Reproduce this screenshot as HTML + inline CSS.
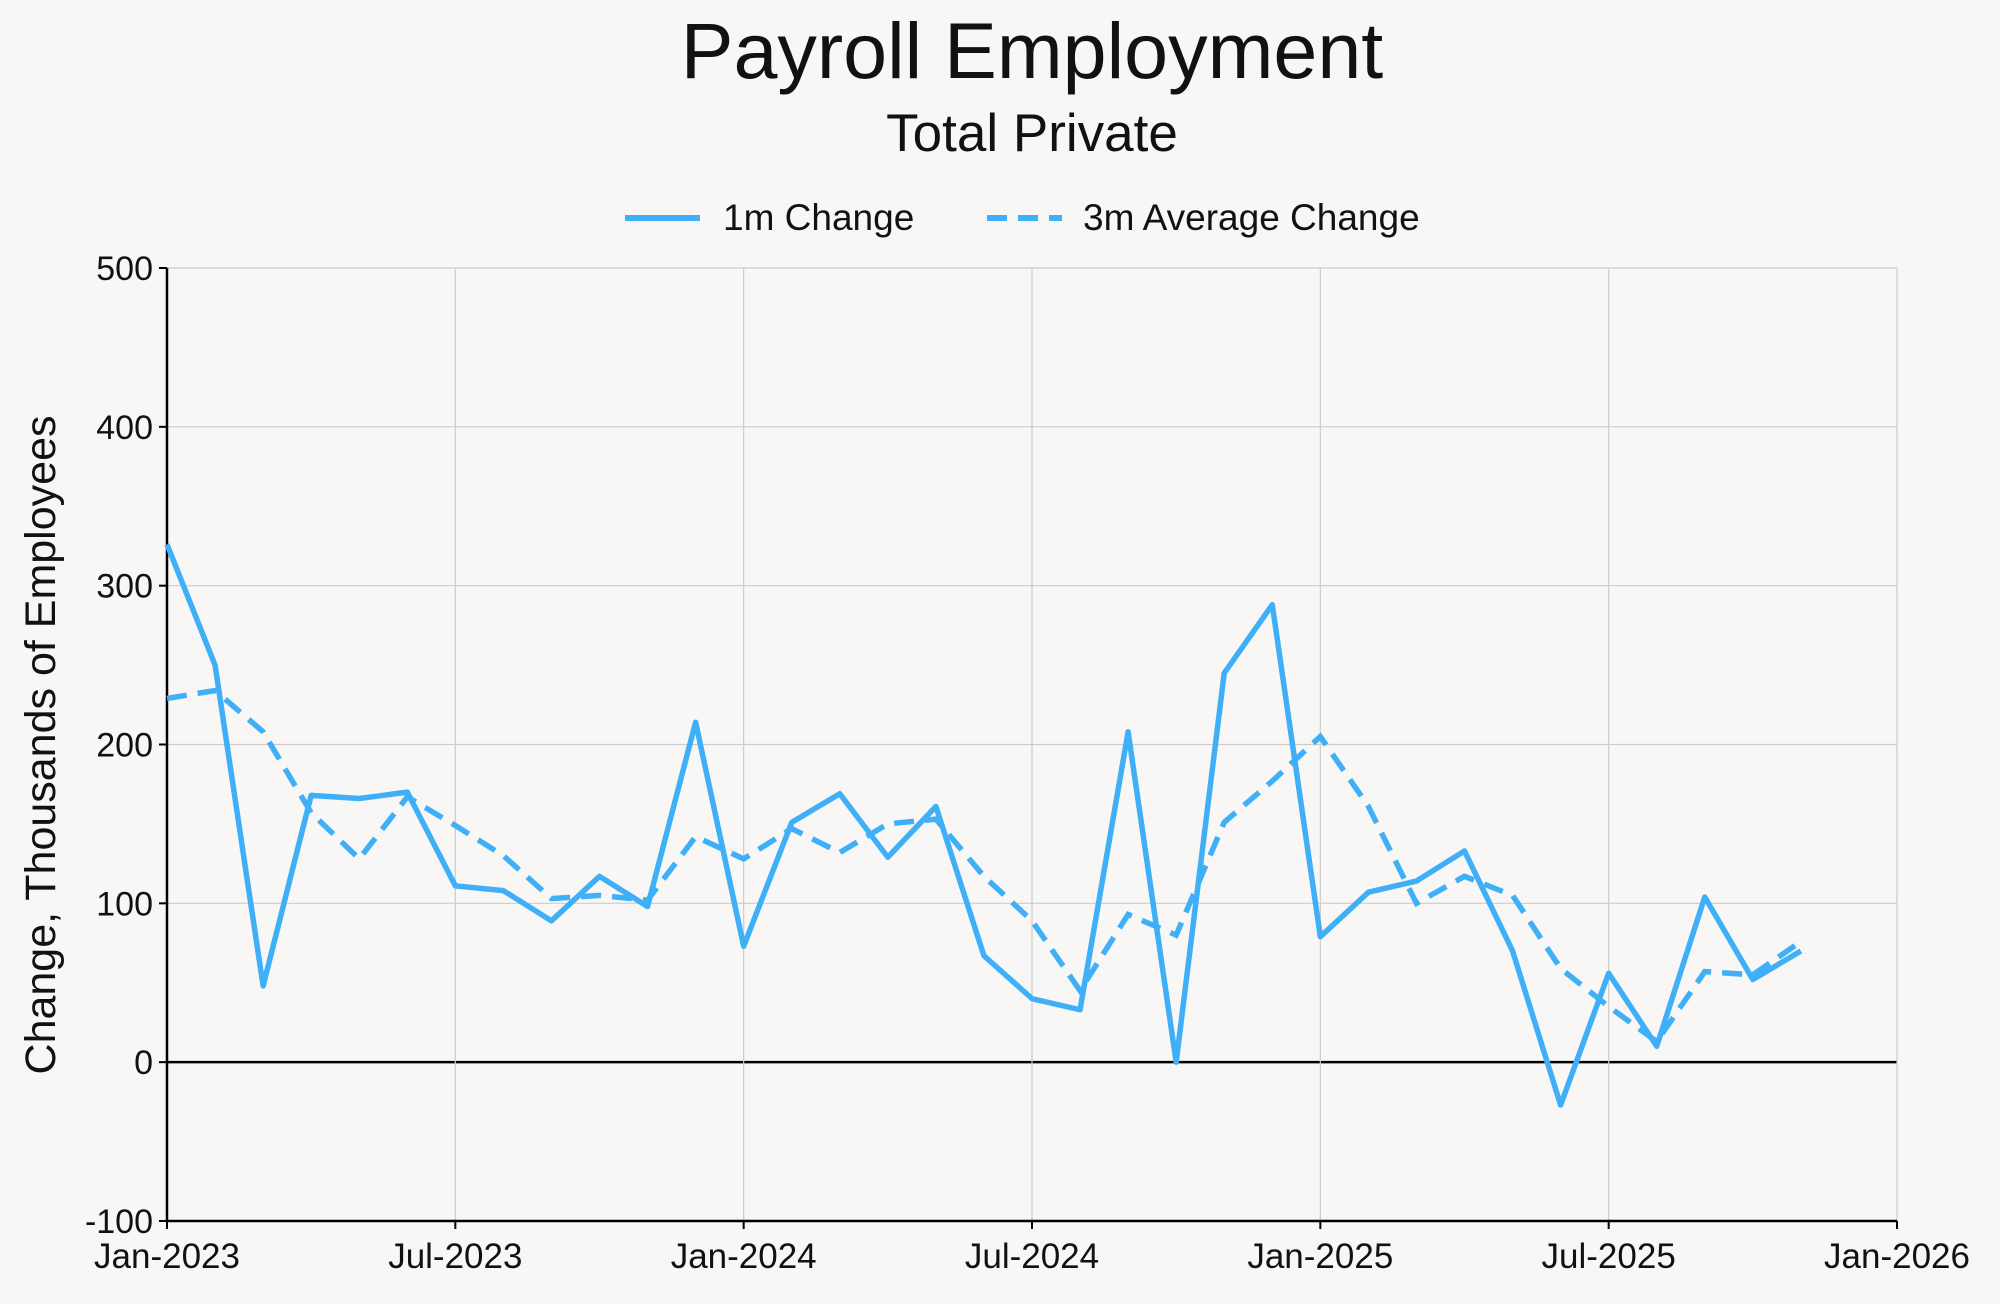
<!DOCTYPE html>
<html><head><meta charset="utf-8"><style>
body{margin:0;background:#f8f7f5;}
svg{display:block;font-family:"Liberation Sans",sans-serif;}
</style></head><body>
<svg id="chart" width="2000" height="1304" viewBox="0 0 2000 1304">
<rect width="2000" height="1304" fill="#f8f7f5"/>
<text x="1032" y="78" text-anchor="middle" font-size="79" fill="#111">Payroll Employment</text>
<text x="1032" y="151" text-anchor="middle" font-size="53" fill="#111">Total Private</text>
<g>
<g>
<line x1="625" y1="218" x2="700" y2="218" stroke="#3fb0f7" stroke-width="6"/>
<text x="723" y="230" font-size="37" fill="#111">1m Change</text></g>
<g>
<line x1="987" y1="218" x2="1062" y2="218" stroke="#3fb0f7" stroke-width="6" stroke-dasharray="20,11"/>
<text x="1083" y="230" font-size="37" fill="#111">3m Average Change</text></g>
</g>
<g id="grid"></g>
<g id="axes"></g>
<g id="series"></g>
<text transform="translate(55,745) rotate(-90)" text-anchor="middle" font-size="43" fill="#111">Change, Thousands of Employees</text>
</svg>
<script>
const monthly = [326,250,48,168,166,170,111,108,89,117,98,214,73,151,169,129,161,67,40,33,208,0,245,288,79,107,114,133,70,-27,56,10,104,52,70];
const avg3m = [229,234,208,157,128,167,149,130,103,105,102,142,128,147,132,150,153,117,89,45,93,80,151,177,205,161,100,117,105,59,35,13,57,55,76];
const yTicks = [-100,0,100,200,300,400,500];
const xTickLabels = ["Jan-2023","Jul-2023","Jan-2024","Jul-2024","Jan-2025","Jul-2025","Jan-2026"];
const xTickMonths = [0,6,12,18,24,30,36];
const L=167,R=1897,T=268,B=1221;
const x=m=>L+(R-L)*m/36;
const y=v=>B-(B-T)*(v+100)/600;
const NS="http://www.w3.org/2000/svg";
function mk(tag,attrs,parent){const e=document.createElementNS(NS,tag);for(const k in attrs)e.setAttribute(k,attrs[k]);parent.appendChild(e);return e;}
const grid=document.getElementById('grid'),axes=document.getElementById('axes'),series=document.getElementById('series');
yTicks.forEach(v=>{
  const g=mk('line',{x1:L,x2:R,y1:y(v),y2:y(v),stroke:v===0?'#000':'#ccc','stroke-width':v===0?2.5:1.2},grid);
  
  
  const t=mk('text',{x:L-14,y:y(v)+12,'text-anchor':'end','font-size':34,fill:'#111'},axes);
  t.textContent=v;
  
  
});
xTickMonths.forEach((m,i)=>{
  const g=mk('line',{x1:x(m),x2:x(m),y1:T,y2:B,stroke:'#ccc','stroke-width':1.2},grid);
  
  
  mk('line',{x1:x(m),x2:x(m),y1:B,y2:B+8,stroke:'#000','stroke-width':2},axes);
  const t=mk('text',{x:x(m),y:B+47,'text-anchor':'middle','font-size':35,fill:'#111'},axes);
  t.textContent=xTickLabels[i];
  
  
});
mk('line',{x1:L,x2:L,y1:T,y2:B,stroke:'#000','stroke-width':2.5},axes);
mk('line',{x1:L,x2:R,y1:B,y2:B,stroke:'#000','stroke-width':2.5},axes);
yTicks.forEach(v=>mk('line',{x1:L-8,x2:L,y1:y(v),y2:y(v),stroke:'#000','stroke-width':2},axes));
const p1=mk('polyline',{points:monthly.map((v,i)=>x(i)+','+y(v)).join(' '),fill:'none',stroke:'#3fb0f7','stroke-width':5.5,'stroke-linejoin':'round'},series);


const p2=mk('polyline',{points:avg3m.map((v,i)=>x(i)+','+y(v)).join(' '),fill:'none',stroke:'#3fb0f7','stroke-width':5.5,'stroke-dasharray':'20,11'},series);


</script>
</body></html>
